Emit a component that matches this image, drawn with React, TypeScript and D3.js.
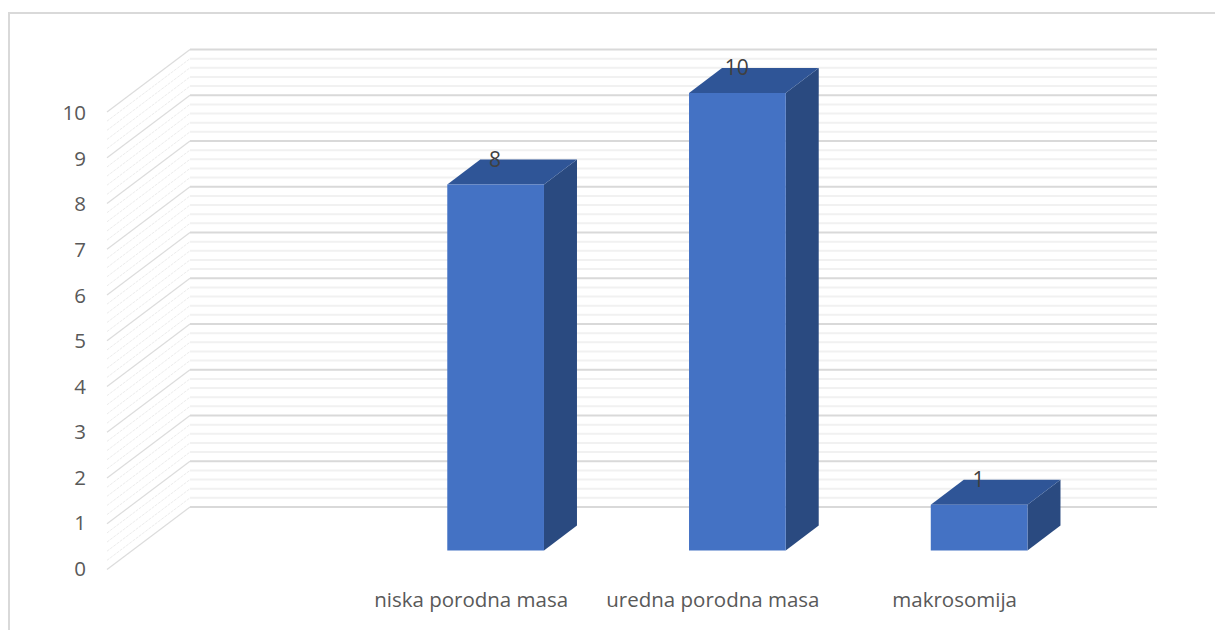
import { useEffect, useRef } from 'react';
import * as d3 from 'd3';

const WIDTH = 1215;
const HEIGHT = 630;

// first category is empty in the source chart
const categories = ['', 'niska porodna masa', 'uredna porodna masa', 'makrosomija'];
const values = [0, 8, 10, 1];
const yTicks = [0, 1, 2, 3, 4, 5, 6, 7, 8, 9, 10];

// 3D projection of the box
const WALL = { left: 190, right: 1157, bottom: 507, top: 49.5 };
const FLOOR_DX = -83;
const FLOOR_DY = 62.5;
const BAR_OFFSET = { dx: -57, dy: 43.5 };
const BAR_DEPTH = { dx: 33, dy: -25 };

const FONT = '"Open Sans", sans-serif';
const COLORS = {
  front: '#4472c4',
  top: '#2f5597',
  side: '#2a4a80',
  major: '#d9d9d9',
  minor: '#f1f1f1',
  sideMajor: '#dcdcdc',
  sideMinor: '#ececec',
  axisText: '#595959',
  label: '#404040',
};

export default function App() {
  const svgRef = useRef<SVGSVGElement>(null);

  useEffect(() => {
    if (!svgRef.current) return;
    const svg = d3.select(svgRef.current);
    svg.selectAll('*').remove();

    const yScale = d3.scaleLinear().domain([0, 10]).range([WALL.bottom, WALL.top]);
    const labelScale = d3.scaleLinear().domain([0, 10]).range([568.5, 113]);
    const xScale = d3
      .scaleBand()
      .domain(categories)
      .range([WALL.left + BAR_OFFSET.dx, WALL.right + BAR_OFFSET.dx])
      .paddingInner(0.6)
      .paddingOuter(0.3);

    // Chart frame
    svg
      .append('path')
      .attr('d', `M9,${HEIGHT} V13 H${WIDTH}`)
      .attr('fill', 'none')
      .attr('stroke', COLORS.major)
      .attr('stroke-width', 2);

    // Gridlines, back wall and side wall
    const wallPath = (v: number) => `M${WALL.left},${yScale(v)} H${WALL.right}`;
    const sidePath = (v: number) =>
      `M${WALL.left + FLOOR_DX},${yScale(v) + FLOOR_DY} L${WALL.left},${yScale(v)}`;
    const minorTicks = yScale.ticks(50).filter(t => !yTicks.includes(t));

    svg
      .append('g')
      .selectAll('path')
      .data(minorTicks)
      .join('path')
      .attr('d', sidePath)
      .attr('fill', 'none')
      .attr('stroke', COLORS.sideMinor)
      .attr('stroke-width', 1)
      .attr('stroke-dasharray', '3,1');

    svg
      .append('g')
      .selectAll('path')
      .data(minorTicks)
      .join('path')
      .attr('d', wallPath)
      .attr('fill', 'none')
      .attr('stroke', COLORS.minor)
      .attr('stroke-width', 2);

    svg
      .append('g')
      .selectAll('path')
      .data(yTicks)
      .join('path')
      .attr('d', sidePath)
      .attr('fill', 'none')
      .attr('stroke', COLORS.sideMajor)
      .attr('stroke-width', 1.2);

    svg
      .append('g')
      .selectAll('path')
      .data(yTicks)
      .join('path')
      .attr('d', wallPath)
      .attr('fill', 'none')
      .attr('stroke', COLORS.major)
      .attr('stroke-width', 2);

    // Bars
    const bars = svg
      .append('g')
      .selectAll('g')
      .data(categories.map((c, i) => ({ category: c, value: values[i] })).filter(d => d.value > 0))
      .join('g');

    const w = xScale.bandwidth();
    const baseY = yScale(0) + BAR_OFFSET.dy;
    const xOf = (c: string) => xScale(c)!;
    const topOf = (v: number) => yScale(v) + BAR_OFFSET.dy;

    bars
      .append('path')
      .attr('fill', COLORS.side)
      .attr('d', d => {
        const x = xOf(d.category) + w;
        return `M${x},${topOf(d.value)} l${BAR_DEPTH.dx},${BAR_DEPTH.dy} V${baseY + BAR_DEPTH.dy} L${x},${baseY} Z`;
      });

    bars
      .append('path')
      .attr('fill', COLORS.top)
      .attr('d', d => {
        const x = xOf(d.category);
        return `M${x},${topOf(d.value)} l${BAR_DEPTH.dx},${BAR_DEPTH.dy} h${w} l${-BAR_DEPTH.dx},${-BAR_DEPTH.dy} Z`;
      });

    bars
      .append('rect')
      .attr('fill', COLORS.front)
      .attr('x', d => xOf(d.category))
      .attr('y', d => topOf(d.value))
      .attr('width', w)
      .attr('height', d => baseY - topOf(d.value));

    // Value labels sit on the top face
    bars
      .append('text')
      .attr('x', d => xOf(d.category) + w / 2 - 0.5)
      .attr('y', d => topOf(d.value) + BAR_DEPTH.dy)
      .attr('dy', '0.35em')
      .attr('text-anchor', 'middle')
      .style('font-family', FONT)
      .style('font-size', '21px')
      .style('fill', COLORS.label)
      .text(d => d.value);

    // Y axis labels
    svg
      .append('g')
      .selectAll('text')
      .data(yTicks)
      .join('text')
      .attr('x', 86)
      .attr('y', d => labelScale(d))
      .attr('dy', '0.36em')
      .attr('text-anchor', 'end')
      .style('font-family', FONT)
      .style('font-size', '20.5px')
      .style('fill', COLORS.axisText)
      .text(d => d);

    // Category labels
    svg
      .append('g')
      .selectAll('text')
      .data(categories.filter(c => c !== ''))
      .join('text')
      .attr('x', d => xOf(d) + w / 2 - 24.5)
      .attr('y', 600)
      .attr('dy', '0.35em')
      .attr('text-anchor', 'middle')
      .style('font-family', FONT)
      .style('font-size', '20.5px')
      .style('fill', COLORS.axisText)
      .text(d => d);
  }, []);

  return (
    <svg
      ref={svgRef}
      width={WIDTH}
      height={HEIGHT}
      style={{ position: 'absolute', left: 0, top: 0, background: '#fff' }}
    />
  );
}
